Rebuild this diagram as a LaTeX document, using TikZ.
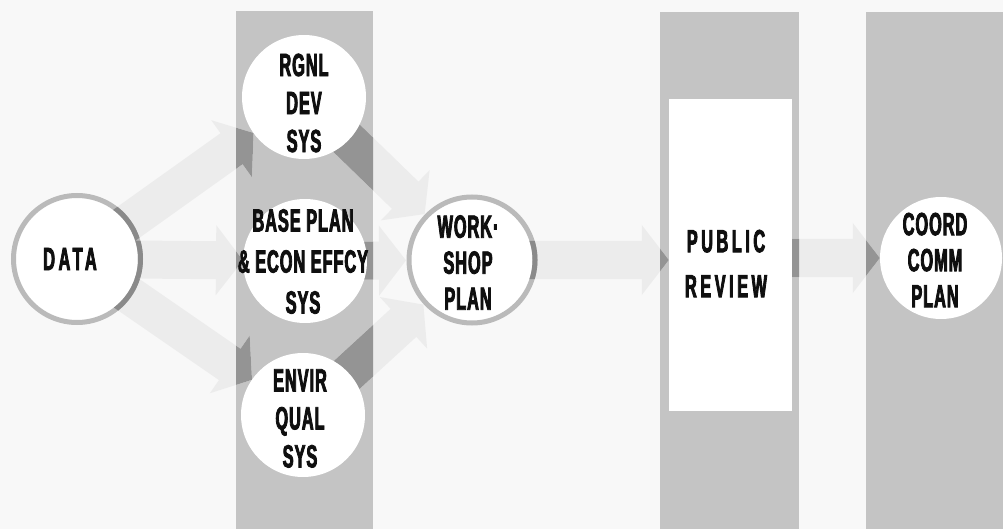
\documentclass[tikz,border=0pt]{standalone}
\usepackage{fontspec}
\newfontfamily\condfont[FakeStretch=0.51,FakeBold=2.5,LetterSpace=3]{Liberation Sans Bold}
\newfontfamily\condwide[FakeStretch=0.51,FakeBold=2.5,LetterSpace=11]{Liberation Sans Bold}
\usetikzlibrary{calc}
\pgfdeclarelayer{bg}
\pgfdeclarelayer{mid}
\pgfdeclarelayer{top}
\pgfsetlayers{bg,mid,main,top}
\definecolor{bgc}{RGB}{248,248,248}
\definecolor{bandc}{RGB}{196,196,196}
\definecolor{arrlight}{RGB}{236,236,236}
\definecolor{arrdark}{RGB}{148,148,148}
\definecolor{ringc}{RGB}{186,186,186}
\definecolor{ringdark}{RGB}{138,138,138}
\definecolor{inkc}{RGB}{15,15,15}
\newcommand\fatarrow[3]{%
  \coordinate (fab) at ($(#2)!27pt!(#1)$);
  \fill[#3] ($(#1)!19pt!90:(#2)$) -- ($(fab)!19pt!90:(#2)$) -- ($(fab)!35pt!90:(#2)$) -- (#2)
    -- ($(fab)!35pt!-90:(#2)$) -- ($(fab)!19pt!-90:(#2)$) -- ($(#1)!19pt!-90:(#2)$) -- cycle;}
\newcommand\allarrows[1]{%
  \fatarrow{data}{e1}{#1}
  \fatarrow{data}{e2}{#1}
  \fatarrow{data}{e3}{#1}
  \fatarrow{rgnl}{e4}{#1}
  \fatarrow{base}{e5}{#1}
  \fatarrow{envir}{e6}{#1}
  \fatarrow{ws}{e7}{#1}
  \fatarrow{s8}{e8}{#1}}
\tikzset{
  lbl/.style={font=\condfont\fontsize{32}{38}\selectfont, align=center, inner sep=0pt, text=inkc},
  bandcirc/.style={circle, fill=white, minimum size=124pt, inner sep=0pt},
  ringcirc/.style={circle, fill=white, draw=ringc, line width=5pt, inner sep=0pt}
}
\begin{document}
\begin{tikzpicture}[x=1pt,y=-1pt]
\useasboundingbox (0,0) rectangle (1003,529);
\begin{pgfonlayer}{bg}
  \fill[bgc] (0,0) rectangle (1003,529);
  \fill[bandc] (236,11) rectangle (373,529);
  \fill[bandc] (660,12) rectangle (799,529);
  \fill[bandc] (866,12) rectangle (1003,529);
\end{pgfonlayer}
% nodes
\node[ringcirc, minimum size=127pt] (data) at (77,259) {};
\node[bandcirc] (rgnl) at (304,97) {};
\node[bandcirc] (base) at (305,261) {};
\node[bandcirc] (envir) at (303,415) {};
\node[ringcirc, minimum size=126pt] (ws) at (472,260) {};
\node[rectangle, fill=white, minimum width=123pt, minimum height=312pt, inner sep=0pt] (pr) at (730.5,255) {};
\node[circle, fill=white, minimum size=122pt, inner sep=0pt] (coord) at (941,258) {};
% texts
\node[lbl, font=\condwide\fontsize{32}{38}\selectfont] (tdata) at (70,259) {DATA};
\node[lbl] (trgnl) at (304,103) {RGNL\\DEV\\SYS};
\node[lbl, font=\condfont\fontsize{32}{41}\selectfont] (tbase) at (303,261.5) {BASE PLAN\\\& ECON EFFCY\\SYS};
\node[lbl] (tenvir) at (300,418.5) {ENVIR\\QUAL\\SYS};
\node[lbl, font=\condfont\fontsize{32}{36}\selectfont] (tws) at (468,262.5) {WORK·\\SHOP\\PLAN};
\node[lbl, font=\condwide\fontsize{32}{45}\selectfont] (tpr) at (726,263.5) {PUBLIC\\REVIEW};
\node[lbl, font=\condfont\fontsize{32}{36}\selectfont] (tcoord) at (935,260) {COORD\\COMM\\PLAN};
% arrow end points
\coordinate (e1) at ($(rgnl)!62pt!(data)$);
\coordinate (e2) at ($(base)!62pt!(data)$);
\coordinate (e3) at ($(envir)!62pt!(data)$);
\coordinate (e4) at ($(ws)!66pt!(rgnl)$);
\coordinate (e5) at ($(ws)!66pt!(base)$);
\coordinate (e6) at ($(ws)!66pt!(envir)$);
\coordinate (e7) at (ws.center -| pr.west);
\coordinate (s8) at (coord.center -| pr.east);
\coordinate (e8) at (coord.west);
\begin{pgfonlayer}{mid}
  \allarrows{arrlight}
  \begin{scope}[even odd rule]
    \clip (236,11) rectangle (373,529) (660,12) rectangle (799,529)
      (669,99) rectangle (792,411) (866,12) rectangle (1003,529);
    \allarrows{arrdark}
  \end{scope}
\end{pgfonlayer}
\begin{pgfonlayer}{top}
  \begin{scope}[even odd rule]
    \clip (data) circle (66) (data) circle (61) (ws) circle (65.5) (ws) circle (60.5);
    \allarrows{ringdark}
  \end{scope}
\end{pgfonlayer}
\end{tikzpicture}
\end{document}
